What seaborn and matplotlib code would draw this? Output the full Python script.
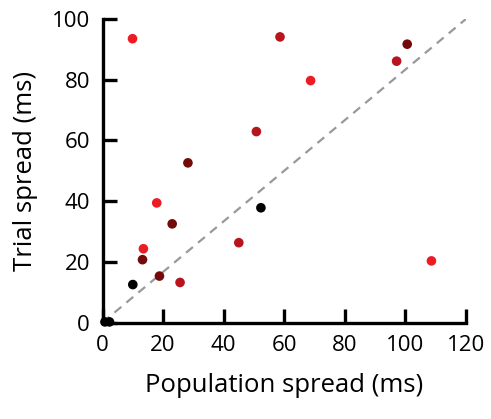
import matplotlib
matplotlib.use("Agg")
import matplotlib.pyplot as plt
import seaborn as sns
import pandas as pd

population_spread = [9.9, 68.7, 17.9, 13.5, 108.6,
                     58.6, 50.8, 97.1, 25.6, 45.0,
                     23.0, 13.2, 18.8, 28.2, 100.6,
                     10.0, 52.3, 0.8, 2.3]
trial_spread = [93.5, 79.7, 39.4, 24.3, 20.3,
                94.1, 62.9, 86.1, 13.2, 26.3,
                32.5, 20.7, 15.3, 52.6, 91.7,
                12.5, 37.8, 0.2, 0.2]
group = ["bright"] * 5 + ["mid"] * 5 + ["dark"] * 5 + ["black"] * 4
palette = {"bright": "#ec1c24", "mid": "#b8141d", "dark": "#750a0a", "black": "#000000"}

x_ticks = [0, 20, 40, 60, 80, 100, 120]
y_ticks = [0, 20, 40, 60, 80, 100]

df = pd.DataFrame({"pop": population_spread, "trial": trial_spread, "group": group})

sns.set_style("ticks")
plt.rcParams["font.family"] = ["Open Sans", "DejaVu Sans"]
plt.rcParams["text.color"] = "black"
plt.rcParams["axes.labelcolor"] = "black"

fig = plt.figure(figsize=(4.91, 4.19), dpi=100)
ax = fig.add_axes([0.2088, 0.2303, 0.949 - 0.2088, 0.9547 - 0.2303])

ax.plot([0, 120], [0, 100], linestyle=(0, (4, 3)), color="#999999", linewidth=1.6, zorder=1)
sns.scatterplot(data=df, x="pop", y="trial", hue="group", palette=palette,
                s=48, linewidth=0, legend=False, ax=ax, zorder=3, clip_on=False)

ax.set_xlim(0, 120)
ax.set_ylim(0, 100)
ax.set_xticks(x_ticks)
ax.set_yticks(y_ticks)
ax.set_xlabel("Population spread (ms)", fontsize=18.5, labelpad=12, color="black")
ax.set_ylabel("Trial spread (ms)", fontsize=18.5, labelpad=10, color="black")
ax.tick_params(axis="both", which="major", direction="in", length=10, width=2.4,
               labelsize=16, pad=9, color="black", labelcolor="black",
               bottom=True, left=True)
for side in ["top", "right"]:
    ax.spines[side].set_visible(False)
for side in ["left", "bottom"]:
    ax.spines[side].set_linewidth(2.4)
    ax.spines[side].set_color("black")
    ax.spines[side].set_capstyle("projecting")

fig.savefig("out.png", dpi=100)
